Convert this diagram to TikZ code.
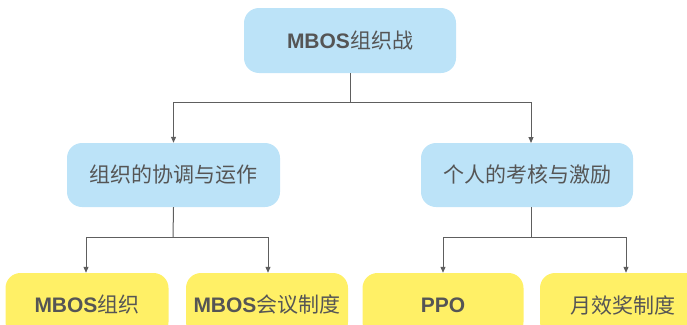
\documentclass[tikz,border=0pt]{standalone}
\usepackage{fontspec}
\setmainfont{Liberation Sans}
\newfontfamily\cjk{Noto Sans CJK SC}
\usetikzlibrary{arrows.meta}
\definecolor{boxblue}{HTML}{BCE3F8}
\definecolor{boxyellow}{HTML}{FFF066}
\definecolor{txtgray}{HTML}{555555}
\definecolor{linegray}{HTML}{5E5E5E}
\begin{document}
\begin{tikzpicture}[x=1pt,y=-1pt,
  box/.style={rounded corners=15pt, inner sep=0pt, text=txtgray,
    font=\fontsize{21}{24}\selectfont},
  bluebox/.style={box, fill=boxblue},
  yellowbox/.style={box, fill=boxyellow},
  conn/.style={draw=linegray, line width=1pt},
  arr/.style={conn, -{Triangle[width=5pt,length=6pt]}}]
\useasboundingbox (0,0) rectangle (687,324);
\node[bluebox, minimum width=212pt, minimum height=65pt] (root) at (350,40.5)
  {\textbf{MBOS}{\cjk 组织战}};
\node[bluebox, minimum width=213pt, minimum height=64pt] (midL) at (173.5,175)
  {\cjk 组织的协调与运作};
\node[bluebox, minimum width=212pt, minimum height=64pt] (midR) at (527,175)
  {\cjk 个人的考核与激励};
\node[yellowbox, minimum width=163pt, minimum height=64pt] (b1) at (87,305)
  {\textbf{MBOS}{\cjk 组织}};
\node[yellowbox, minimum width=162pt, minimum height=64pt] (b2) at (267,305)
  {\textbf{MBOS}{\cjk 会议制度}};
\node[yellowbox, minimum width=161pt, minimum height=64pt] (b3) at (443,305)
  {\textbf{PPO}};
\node[yellowbox, minimum width=166pt, minimum height=64pt] (b4) at (623,305)
  {\cjk 月效奖制度};
\coordinate (j1) at (350,102);
\coordinate (j2) at (173,237);
\coordinate (j3) at (531,237);
\coordinate (tR) at (531,143);
\coordinate (sR) at (531,207);
\draw[conn] (root.south) -- (j1);
\draw[arr] (j1) -| (midL.north);
\draw[arr] (j1) -| (tR);
\draw[conn] (midL.south) -- (j2);
\draw[arr] (j2) -| ([xshift=-1pt]b1.north);
\draw[arr] (j2) -| ([xshift=1pt]b2.north);
\draw[conn] (sR) -- (j3);
\draw[arr] (j3) -| (b3.north);
\draw[arr] (j3) -| ([xshift=3pt]b4.north);
\end{tikzpicture}
\end{document}
